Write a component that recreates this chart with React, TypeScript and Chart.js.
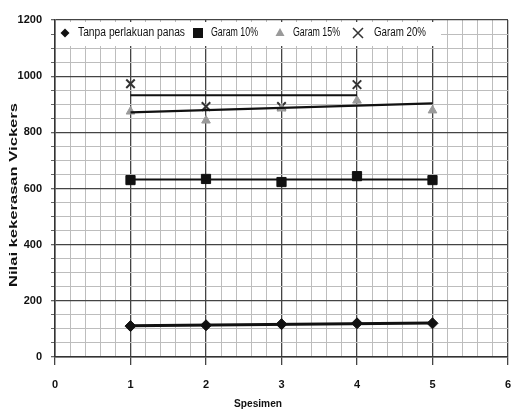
import React, { useEffect, useRef } from 'react';
import { Chart, registerables } from 'chart.js';
Chart.register(...registerables);

const specimens = [1, 2, 3, 4, 5];
const specimens20 = [1, 2, 3, 4];
const tanpa = [110, 113, 117, 120, 120];
const garam10 = [630, 634, 623, 644, 630];
const garam15 = [874, 842, 885, 913, 878];
const garam20 = [973, 892, 892, 970];

const trendX = [1, 5];
const trendX20 = [1, 4];
const tanpaTrend = [111, 121];
const garam10Trend = [632, 632];
const garam15Trend = [871, 903];
const garam20Trend = [932, 932];

const seriesNames = ['Tanpa perlakuan panas', 'Garam 10%', 'Garam 15%', 'Garam 20%'];
const xTitle = 'Spesimen';
const yTitle = 'Nilai kekerasan Vickers';

const FONT = '"Liberation Sans", Arial, sans-serif';

const pts = (xs: number[], ys: number[]) => xs.map((x, i) => ({ x, y: ys[i] }));
const isInt = (v: number) => Math.abs(v - Math.round(v)) < 1e-6;
const isMajorY = (v: number) => Math.abs(v / 200 - Math.round(v / 200)) < 1e-6;

function drawMarker(ctx: CanvasRenderingContext2D, style: string, x: number, y: number, r: number, color: string) {
  ctx.save();
  ctx.fillStyle = color;
  ctx.strokeStyle = color;
  ctx.beginPath();
  if (style === 'rectRot') {
    ctx.moveTo(x, y - r);
    ctx.lineTo(x + r, y);
    ctx.lineTo(x, y + r);
    ctx.lineTo(x - r, y);
    ctx.closePath();
    ctx.fill();
  } else if (style === 'rect') {
    ctx.fillRect(x - r, y - r, 2 * r, 2 * r);
  } else if (style === 'triangle') {
    ctx.moveTo(x, y - r);
    ctx.lineTo(x + r * 0.9, y + r * 0.6);
    ctx.lineTo(x - r * 0.9, y + r * 0.6);
    ctx.closePath();
    ctx.fill();
  } else {
    ctx.lineWidth = 1.5;
    ctx.moveTo(x - r, y - r);
    ctx.lineTo(x + r, y + r);
    ctx.moveTo(x + r, y - r);
    ctx.lineTo(x - r, y + r);
    ctx.stroke();
  }
  ctx.restore();
}

const decorPlugin = {
  id: 'decor',
  afterDatasetsDraw(chart: any) {
    const { ctx, chartArea } = chart;
    const top = chartArea.top;
    const left = chartArea.left;
    ctx.save();
    // legend box
    ctx.fillStyle = '#ffffff';
    ctx.fillRect(left + 1, top + 2, 385, 24);
    const cy = top + 13;
    ctx.font = `12px ${FONT}`;
    ctx.textBaseline = 'middle';
    ctx.textAlign = 'left';
    const items = [
      { mx: 65, tx: 78, w: 107, style: 'rectRot', r: 4.5, color: '#111' },
      { mx: 198, tx: 211, w: 47, style: 'rect', r: 5, color: '#111' },
      { mx: 280, tx: 293, w: 47, style: 'triangle', r: 5, color: '#9a9a9a' },
      { mx: 358, tx: 374, w: 52, style: 'crossRot', r: 5, color: '#333' },
    ];
    items.forEach((it, i) => {
      drawMarker(ctx, it.style, it.mx, cy, it.r, it.color);
      ctx.fillStyle = '#111';
      ctx.fillText(seriesNames[i], it.tx, cy, it.w);
    });
    // x title
    ctx.font = `bold 11px ${FONT}`;
    ctx.textAlign = 'center';
    ctx.fillText(xTitle, 258, 404, 48);
    // y title, stretched along the axis
    ctx.translate(14, 195);
    ctx.rotate(-Math.PI / 2);
    ctx.font = `bold 10px ${FONT}`;
    const w = ctx.measureText(yTitle).width;
    ctx.scale(184 / w, 1);
    ctx.fillText(yTitle, 0, 0);
    ctx.restore();
  },
};

export default function App() {
  const ref = useRef<HTMLCanvasElement>(null);
  useEffect(() => {
    document.body.style.margin = '0';
    const trendStyle = {
      type: 'line' as const,
      showLine: true,
      pointRadius: 0,
      borderColor: '#111',
      borderWidth: 2.2,
      fill: false,
    };
    const chart = new Chart(ref.current!, {
      type: 'scatter',
      data: {
        datasets: [
          { ...trendStyle, label: 't0', data: pts(trendX, tanpaTrend), borderWidth: 3 },
          { ...trendStyle, label: 't10', data: pts(trendX, garam10Trend) },
          { ...trendStyle, label: 't15', data: pts(trendX, garam15Trend) },
          { ...trendStyle, label: 't20', data: pts(trendX20, garam20Trend) },
          {
            label: seriesNames[0], data: pts(specimens, tanpa), pointStyle: 'rectRot',
            pointRadius: 5.5, backgroundColor: '#111', borderColor: '#111',
          },
          {
            label: seriesNames[1], data: pts(specimens, garam10), pointStyle: 'rect',
            pointRadius: 6.5, backgroundColor: '#111', borderColor: '#111',
          },
          {
            label: seriesNames[2], data: pts(specimens, garam15), pointStyle: 'triangle',
            pointRadius: 5, backgroundColor: '#9a9a9a', borderColor: '#9a9a9a',
          },
          {
            label: seriesNames[3], data: pts(specimens20, garam20), pointStyle: 'crossRot',
            pointRadius: 6, borderWidth: 2, backgroundColor: '#333', borderColor: '#333',
          },
        ],
      },
      options: {
        responsive: false,
        animation: false,
        layout: { autoPadding: false, padding: { top: 20, right: 5, left: 0, bottom: 0 } },
        plugins: { legend: { display: false }, tooltip: { enabled: false } },
        scales: {
          x: {
            type: 'linear',
            min: 0,
            max: 6,
            afterFit: (s: any) => { s.height = 57; s.paddingLeft = 0; s.paddingRight = 0; },
            ticks: {
              stepSize: 0.2,
              autoSkip: false,
              maxRotation: 0,
              padding: 13,
              color: '#111',
              font: { family: FONT, size: 11, weight: 'bold' },
              callback: (v: any) => (isInt(Number(v)) ? String(Math.round(Number(v))) : ''),
            },
            grid: {
              color: (c: any) => (isInt(c.tick.value) ? '#444' : '#bdbdbd'),
              lineWidth: (c: any) => (isInt(c.tick.value) ? 1.3 : 1),
              tickColor: (c: any) => (isInt(c.tick.value) ? '#444' : 'rgba(0,0,0,0)'),
              tickLength: 8,
            },
            border: { display: true, color: '#333', width: 1.5 },
            title: { display: false },
          },
          y: {
            min: 0,
            max: 1200,
            afterFit: (s: any) => { s.width = 55; s.paddingTop = 0; s.paddingBottom = 0; },
            ticks: {
              stepSize: 50,
              autoSkip: false,
              padding: 9,
              color: '#111',
              font: { family: FONT, size: 11, weight: 'bold' },
              callback: (v: any) => (isMajorY(Number(v)) ? String(v) : ''),
            },
            grid: {
              color: (c: any) => (isMajorY(c.tick.value) ? '#444' : '#bdbdbd'),
              lineWidth: (c: any) => (isMajorY(c.tick.value) ? 1.3 : 1),
              tickColor: '#666',
              tickLength: 4,
            },
            border: { display: true, color: '#333', width: 1.5 },
            title: { display: false },
          },
        },
      },
      plugins: [decorPlugin],
    } as any);
    return () => chart.destroy();
  }, []);
  return (
    <div style={{ width: 513, height: 414, position: 'relative', background: '#fff' }}>
      <canvas ref={ref} width={513} height={414} />
    </div>
  );
}
